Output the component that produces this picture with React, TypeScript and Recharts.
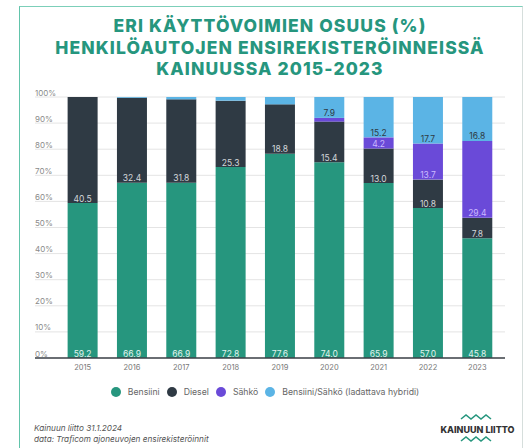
import React from 'react';
import { BarChart, Bar, XAxis, YAxis, CartesianGrid, LabelList, Legend } from 'recharts';

const YEARS = ['2015', '2016', '2017', '2018', '2019', '2020', '2021', '2022', '2023'];
const BENSIINI = [59.2, 66.9, 66.9, 72.8, 77.6, 74.0, 65.9, 57.0, 45.8];
const DIESEL = [40.5, 32.4, 31.8, 25.3, 18.8, 15.4, 13.0, 10.8, 7.8];
const SAHKO = [0, 0, 0, 0, 0, 1.4, 4.2, 13.7, 29.4];
const HYBRIDI = [0, 0.3, 0.9, 1.4, 2.8, 7.9, 15.2, 17.7, 16.8];
const SERIES_NAMES = ['Bensiini', 'Diesel', 'Sähkö', 'Bensiini/Sähkö (ladattava hybridi)'];
const Y_TICKS = [0, 0.1, 0.2, 0.3, 0.4, 0.5, 0.6, 0.7, 0.8, 0.9, 1];

const data = YEARS.map((year, i) => ({
  year,
  bensiini: BENSIINI[i],
  diesel: DIESEL[i],
  sahko: SAHKO[i],
  hybridi: HYBRIDI[i],
}));

const FONT = 'Inter, "Open Sans", sans-serif';
const TEAL = '#26967e';

// small segments carry no label in the original
const fmt = (v: any) => (typeof v === 'number' && v >= 4 ? v.toFixed(1) : '');

const YTick = ({ y, payload }: any) => (
  <text x={35} y={y} dy={-1.5} textAnchor="start" fontSize={8} fill="#8a8a8a" fontFamily={FONT}>
    {Math.round(payload.value * 100)}%
  </text>
);

const XTick = ({ x, y, payload }: any) => (
  <text x={x} y={y} dy={11.5} textAnchor="middle" fontSize={7.5} fill="#777" fontFamily={FONT}>
    {payload.value}
  </text>
);

const LegendContent = ({ payload }: any) => {
  const items = [...(payload || [])].sort(
    (a: any, b: any) => SERIES_NAMES.indexOf(a.value) - SERIES_NAMES.indexOf(b.value)
  );
  return (
    <div style={{ display: 'flex', justifyContent: 'center', alignItems: 'center', height: 16, fontFamily: FONT, fontSize: 8.7, color: '#666' }}>
      {items.map((p: any) => (
        <span key={p.value} style={{ display: 'flex', alignItems: 'center', marginRight: 7 }}>
          <span style={{ width: 10, height: 10, borderRadius: 5, background: p.color, marginRight: 7 }} />
          {p.value}
        </span>
      ))}
    </div>
  );
};

const Wave = ({ y }: { y: number }) => (
  <path
    d={`M461 ${y} l5 -4 l5 4 l5 -4 l5 4 l5 -4 l5 4`}
    fill="none"
    stroke={TEAL}
    strokeWidth={1.6}
  />
);

export default function App() {
  return (
    <div style={{ position: 'absolute', left: 0, top: 0, width: 526, height: 448, background: '#fff', overflow: 'hidden' }}>
      <div
        style={{
          position: 'absolute',
          left: 19,
          top: 6,
          width: 502,
          height: 460,
          borderLeft: '1.5px solid #62c4ab',
          borderTop: '1.5px solid #7ccfb9',
          borderRight: '1.5px solid #d6dedc',
        }}
      />
      <div
        style={{
          position: 'absolute',
          left: 20,
          top: 15,
          width: 500,
          textAlign: 'center',
          fontFamily: FONT,
          fontWeight: 800,
          fontSize: 17.5,
          letterSpacing: 1.1,
          lineHeight: '21.5px',
          color: TEAL,
        }}
      >
        ERI KÄYTTÖVOIMIEN OSUUS (%)
        <br />
        HENKILÖAUTOJEN ENSIREKISTERÖINNEISSÄ
        <br />
        KAINUUSSA 2015-2023
      </div>
      <div style={{ position: 'absolute', left: 0, top: 0 }}>
        <BarChart
          width={526}
          height={448}
          data={data}
          stackOffset="expand"
          barCategoryGap="19.5%"
          margin={{ top: 97, right: 21, left: 34, bottom: 54 }}
        >
          <CartesianGrid vertical={false} stroke="#e4e4e4" />
          <XAxis
            dataKey="year"
            tick={<XTick />}
            tickLine={false}
            tickSize={0}
            tickMargin={0}
            height={20}
            padding={{ left: 23, right: 3 }}
            axisLine={{ stroke: '#3c4248', strokeWidth: 1.5 }}
          />
          <YAxis width={1} ticks={Y_TICKS} domain={[0, 1]} interval={0} tick={<YTick />} tickLine={false} axisLine={false} />
          <Legend content={<LegendContent />} wrapperStyle={{ top: 384, bottom: 'auto', left: 33 }} height={16} />
          <Bar dataKey="bensiini" name="Bensiini" stackId="a" fill={TEAL} isAnimationActive={false}>
            <LabelList dataKey="bensiini" position="insideBottom" offset={1.5} fontSize={8.5} fill="#e2f3ee" fontFamily={FONT} formatter={fmt} />
          </Bar>
          <Bar dataKey="diesel" name="Diesel" stackId="a" fill="#2f3a44" isAnimationActive={false}>
            <LabelList dataKey="diesel" position="insideBottom" offset={1.5} fontSize={8.5} fill="#d3d7db" fontFamily={FONT} formatter={fmt} />
          </Bar>
          <Bar dataKey="sahko" name="Sähkö" stackId="a" fill="#6a4ad8" isAnimationActive={false}>
            <LabelList dataKey="sahko" position="insideBottom" offset={1.5} fontSize={8.5} fill="#cbb9ff" fontFamily={FONT} formatter={fmt} />
          </Bar>
          <Bar dataKey="hybridi" name="Bensiini/Sähkö (ladattava hybridi)" stackId="a" fill="#5bb4e5" isAnimationActive={false}>
            <LabelList dataKey="hybridi" position="insideBottom" offset={1.5} fontSize={8.5} fill="#2f3a44" fontFamily={FONT} formatter={fmt} />
          </Bar>
        </BarChart>
      </div>
      <div style={{ position: 'absolute', left: 34, top: 423, fontFamily: FONT, fontStyle: 'italic', fontSize: 8.2, lineHeight: '10.5px', color: '#555' }}>
        Kainuun liitto 31.1.2024
        <br />
        data: Traficom ajoneuvojen ensirekisteröinnit
      </div>
      <svg style={{ position: 'absolute', left: 0, top: 0 }} width={526} height={448}>
        <Wave y={419} />
        <text x={477.5} y={432.5} textAnchor="middle" fontFamily={FONT} fontWeight={800} fontSize={9} fill="#333">
          KAINUUN LIITTO
        </text>
        <Wave y={441} />
      </svg>
    </div>
  );
}
